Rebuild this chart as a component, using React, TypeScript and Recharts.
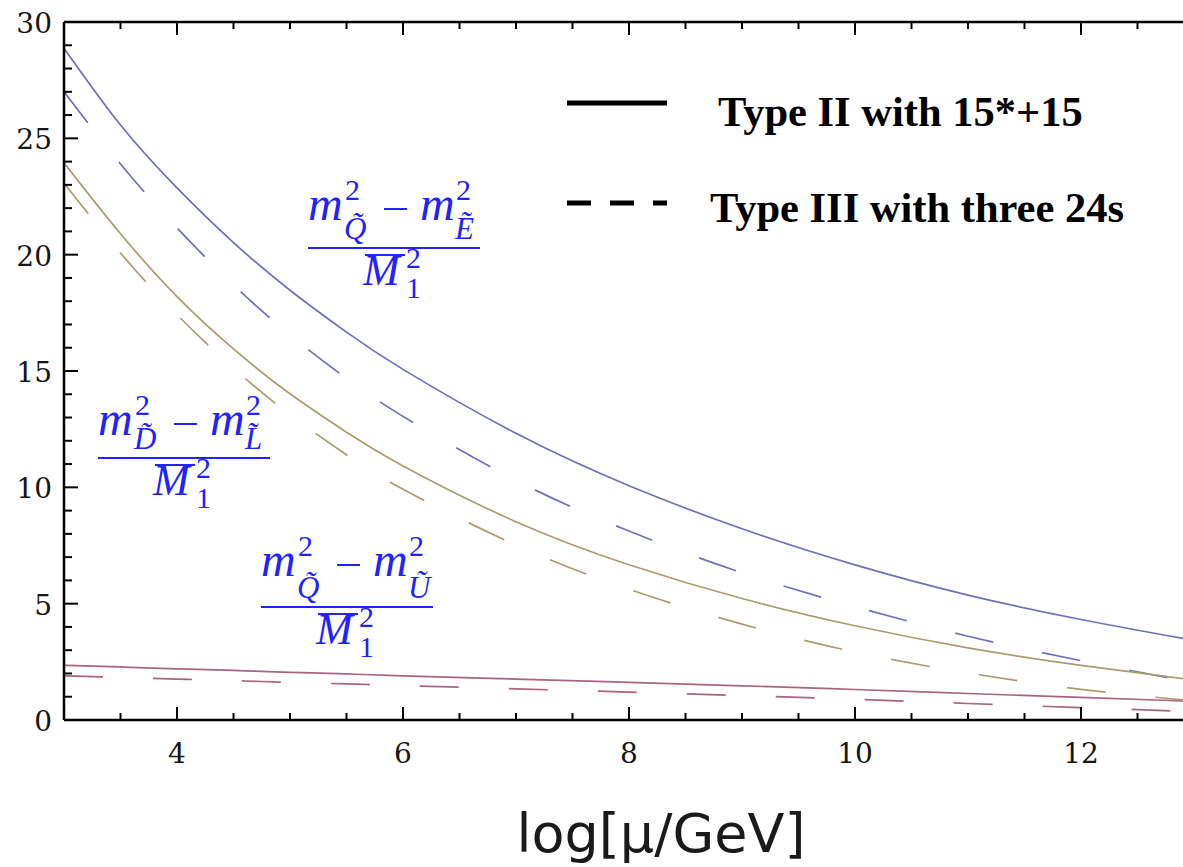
import React from 'react';
import { LineChart, Line, XAxis, YAxis } from 'recharts';

// x = log[mu/GeV]
const xValues = [3, 3.5, 4, 4.5, 5, 5.5, 6, 7, 8, 9, 10, 11, 12, 13];
// (m_Q^2 - m_E^2)/M1^2
const qeTypeII = [28.87, 25.57, 22.87, 20.52, 18.47, 16.67, 15.07, 12.32, 10.07, 8.22, 6.67, 5.37, 4.32, 3.42];
const qeTypeIII = [27.0, 23.9, 21.15, 18.7, 16.55, 14.68, 13.05, 10.3, 8.12, 6.33, 4.87, 3.6, 2.55, 1.6];
// (m_D^2 - m_L^2)/M1^2
const dlTypeII = [23.95, 20.9, 18.2, 15.95, 14.02, 12.37, 10.92, 8.52, 6.67, 5.22, 4.05, 3.1, 2.35, 1.72];
const dlTypeIII = [23.07, 20.07, 17.42, 15.12, 13.12, 11.4, 9.92, 7.52, 5.62, 4.12, 2.92, 2.02, 1.32, 0.82];
// (m_Q^2 - m_U^2)/M1^2
const quTypeII = [2.35, 2.28, 2.2, 2.13, 2.05, 1.98, 1.9, 1.76, 1.62, 1.47, 1.31, 1.14, 0.97, 0.8];
const quTypeIII = [1.9, 1.83, 1.76, 1.69, 1.62, 1.55, 1.48, 1.34, 1.2, 1.05, 0.89, 0.71, 0.53, 0.36];

const xTicks = [3.5, 4, 4.5, 5, 5.5, 6, 6.5, 7, 7.5, 8, 8.5, 9, 9.5, 10, 10.5, 11, 11.5, 12, 12.5, 13];
const xTickLabels = [4, 6, 8, 10, 12];
const yTicks = [0, 1, 2, 3, 4, 5, 6, 7, 8, 9, 10, 11, 12, 13, 14, 15, 16, 17, 18, 19, 20, 21, 22, 23, 24, 25, 26, 27, 28, 29, 30];
const yTickLabels = [0, 5, 10, 15, 20, 25, 30];

const legendLabels = ['Type II with 15*+15', 'Type III with three 24s'];
const axisTitle = 'log[\u03BC/GeV]';

const data = xValues.map((x, i) => ({
  x,
  qeII: qeTypeII[i],
  qeIII: qeTypeIII[i],
  dlII: dlTypeII[i],
  dlIII: dlTypeIII[i],
  quII: quTypeII[i],
  quIII: quTypeIII[i],
}));

const BLUE = '#7070b8';
const TAN = '#aa9c6c';
const MAUVE = '#a86482';
const TEXTBLUE = '#2222ff';
const DASH = '39 50';
const tickFont = 'DejaVu Serif';

const BottomTick = (props: any) => {
  const { x, y, payload } = props;
  const v = payload.value;
  const major = xTickLabels.includes(v);
  return (
    <g>
      <line x1={x} x2={x} y1={y} y2={y - (major ? 13 : 7)} stroke="#000" strokeWidth={2} />
      {major && (
        <text x={x} y={y + 43} textAnchor="middle" fontFamily={tickFont} fontSize={28} fill="#151515">
          {v}
        </text>
      )}
    </g>
  );
};

const TopTick = (props: any) => {
  const { x, y, payload } = props;
  const v = payload.value;
  const major = xTickLabels.includes(v);
  return <line x1={x} x2={x} y1={y} y2={y + (major ? 13 : 7)} stroke="#000" strokeWidth={2} />;
};

const LeftTick = (props: any) => {
  const { x, y, payload } = props;
  const v = payload.value;
  const major = yTickLabels.includes(v);
  return (
    <g>
      <line x1={x} x2={x + (major ? 14 : 8)} y1={y} y2={y} stroke="#000" strokeWidth={2} />
      {major && (
        <text x={x - 12} y={y + 11} textAnchor="end" fontFamily={tickFont} fontSize={28} fill="#151515">
          {v}
        </text>
      )}
    </g>
  );
};

type FracProps = { x0: number; barY: number; sub1: string; sub2: string; numUp: number };

const Frac = ({ x0, barY, sub1, sub2, numUp }: FracProps) => {
  const ff = 'Liberation Serif';
  return (
    <g fill={TEXTBLUE} fontFamily={ff}>
      <text x={x0} y={barY - numUp} fontSize={48} fontStyle="italic">m</text>
      <text x={x0 + 37} y={barY - numUp - 20} fontSize={30}>2</text>
      <text x={x0 + 36} y={barY - 9} fontSize={31} fontStyle="italic">{sub1 + '\u0303'}</text>
      <line x1={x0 + 76} x2={x0 + 99} y1={barY - numUp - 11} y2={barY - numUp - 11} stroke={TEXTBLUE} strokeWidth={2} />
      <text x={x0 + 112} y={barY - numUp} fontSize={48} fontStyle="italic">m</text>
      <text x={x0 + 148} y={barY - numUp - 20} fontSize={30}>2</text>
      <text x={x0 + 147} y={barY - 9} fontSize={31} fontStyle="italic">{sub2 + '\u0303'}</text>
      <line x1={x0} x2={x0 + 172} y1={barY} y2={barY} stroke={TEXTBLUE} strokeWidth={2} />
      <line x1={x0 + 57} x2={x0 + 97} y1={barY + 7} y2={barY + 7} stroke={TEXTBLUE} strokeWidth={2} />
      <text x={x0 + 55} y={barY + 37} fontSize={44} fontStyle="italic">M</text>
      <text x={x0 + 98} y={barY + 20} fontSize={30}>2</text>
      <text x={x0 + 98} y={barY + 50} fontSize={30}>1</text>
    </g>
  );
};

export default function App() {
  return (
    <div style={{ position: 'absolute', left: 0, top: 0, width: 1183, height: 867, overflow: 'hidden', background: '#fff' }}>
      <LineChart
        width={1200}
        height={867}
        data={data}
        margin={{ top: 12, left: 4, right: 6, bottom: 97 }}
      >
        <XAxis
          dataKey="x"
          type="number"
          domain={[3, 13]}
          ticks={xTicks}
          interval={0}
          allowDataOverflow
          height={50}
          tickSize={0}
          tickMargin={0}
          tickLine={false}
          tick={<BottomTick />}
          axisLine={{ stroke: '#000', strokeWidth: 2.5 }}
        />
        <XAxis
          xAxisId="top"
          orientation="top"
          dataKey="x"
          type="number"
          domain={[3, 13]}
          ticks={xTicks}
          interval={0}
          allowDataOverflow
          height={10}
          tickSize={0}
          tickMargin={0}
          tickLine={false}
          tick={<TopTick />}
          axisLine={{ stroke: '#000', strokeWidth: 2.5 }}
        />
        <YAxis
          type="number"
          domain={[0, 30]}
          ticks={yTicks}
          interval={0}
          allowDataOverflow
          width={60}
          tickSize={0}
          tickMargin={0}
          tickLine={false}
          tick={<LeftTick />}
          axisLine={{ stroke: '#000', strokeWidth: 2.5 }}
        />
        <Line type="natural" dataKey="qeII" stroke={BLUE} strokeWidth={1.7} dot={false} isAnimationActive={false} />
        <Line type="natural" dataKey="qeIII" stroke={BLUE} strokeWidth={1.7} strokeDasharray={DASH} dot={false} isAnimationActive={false} />
        <Line type="natural" dataKey="dlII" stroke={TAN} strokeWidth={1.7} dot={false} isAnimationActive={false} />
        <Line type="natural" dataKey="dlIII" stroke={TAN} strokeWidth={1.7} strokeDasharray={DASH} dot={false} isAnimationActive={false} />
        <Line type="natural" dataKey="quII" stroke={MAUVE} strokeWidth={1.7} dot={false} isAnimationActive={false} />
        <Line type="natural" dataKey="quIII" stroke={MAUVE} strokeWidth={1.7} strokeDasharray={DASH} dot={false} isAnimationActive={false} />
      </LineChart>
      <svg width={1183} height={867} style={{ position: 'absolute', left: 0, top: 0, pointerEvents: 'none' }}>
        <line x1={567} x2={667} y1={103} y2={103} stroke="#000" strokeWidth={5} />
        <text x={718} y={126} fontFamily="Liberation Serif" fontWeight="bold" fontSize={42.5} fill="#000">
          {legendLabels[0]}
        </text>
        <line x1={567} x2={667} y1={203} y2={203} stroke="#000" strokeWidth={5} strokeDasharray="24 19" />
        <text x={710} y={222} fontFamily="Liberation Serif" fontWeight="bold" fontSize={42.5} fill="#000">
          {legendLabels[1]}
        </text>
        <Frac x0={308} barY={248} sub1="Q" sub2="E" numUp={28} />
        <Frac x0={98} barY={458} sub1="D" sub2="L" numUp={23} />
        <Frac x0={261} barY={607} sub1="Q" sub2="U" numUp={31} />
        <text x={661} y={852} textAnchor="middle" fontFamily="DejaVu Sans" fontSize={54} fill="#1a1a1a">
          {axisTitle}
        </text>
      </svg>
    </div>
  );
}
